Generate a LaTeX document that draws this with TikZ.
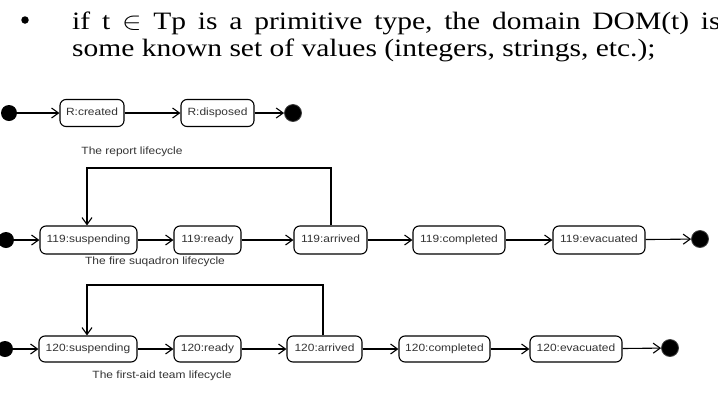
\documentclass[tikz,border=0pt]{standalone}
\usepackage{graphicx}
\usepackage{fontspec}
\setmainfont{Liberation Serif}
\newfontfamily\diagfont[FakeStretch=1.14]{Liberation Sans}
\usetikzlibrary{arrows.meta}
\definecolor{txtgray}{HTML}{333333}
\begin{document}
\begin{tikzpicture}[x=1pt,y=-1pt,
  state/.style={draw, rounded corners=6pt, line width=1.1pt, minimum height=27pt,
    inner sep=0pt, text height=7.6pt, text depth=2.2pt,
    font=\diagfont\fontsize{10.5}{12}\selectfont, text=txtgray},
  initst/.style={circle, fill=black, minimum size=16pt, inner sep=0pt},
  finst/.style={circle, fill=black, draw=black!75, line width=0.8pt, minimum size=17pt, inner sep=0pt},
  trans/.style={line width=1.1pt, -{Straight Barb[length=7pt,width=10pt,line width=1.1pt]}},
  caption/.style={font=\diagfont\fontsize{10.5}{12}\selectfont, text=txtgray, inner sep=0pt},
  bodytext/.style={font=\fontsize{25}{29}\selectfont, anchor=base west, inner sep=0pt}
]
\clip (0,0) rectangle (718,408);
\fill[white] (0,0) rectangle (718,408);

% text above
\node[circle, fill=black, minimum size=7.5pt, inner sep=0pt] (bul) at (25,20) {};
\node[bodytext] (l1) at (72,29) {\scalebox{1.18}[1]{\spaceskip=10pt plus 0pt if t $\in$ Tp is a primitive type, the domain DOM(t) is}};
\node[bodytext] (l2) at (72,56) {\scalebox{1.18}[1]{some known set of values (integers, strings, etc.);}};

% row 1
\node[initst] (i1) at (9,113) {};
\node[state, minimum width=64pt] (rc) at (92,113) {R:created};
\node[state, minimum width=73pt] (rd) at (217.5,113) {R:disposed};
\node[finst] (f1) at (293,113) {};
\draw[trans] (i1) -- (rc);
\draw[trans] (rc) -- (rd);
\draw[trans] (rd) -- (f1);
\node[caption] (cap1) at (132,152) {The report lifecycle};

% row 2
\node[initst] (i2) at (6,240) {};
\node[state, minimum width=97pt, minimum height=28pt] (s119) at (88.5,240) {119:suspending};
\node[state, minimum width=67pt, minimum height=28pt] (r119) at (207.5,240) {119:ready};
\node[state, minimum width=73pt, minimum height=28pt] (a119) at (330.5,240) {119:arrived};
\node[state, minimum width=92pt, minimum height=28pt] (c119) at (459,240) {119:completed};
\node[state, minimum width=92pt, minimum height=28pt] (e119) at (599,240) {119:evacuated};
\node[finst] (f2) at (700,239) {};
\draw[trans] (i2) -- (s119);
\draw[trans] (s119) -- (r119);
\draw[trans] (r119) -- (a119);
\draw[trans] (a119) -- (c119);
\draw[trans] (c119) -- (e119);
\draw[trans] (e119) -- (f2);
\coordinate (k2a) at (331,168);
\coordinate (k2b) at (87,168);
\draw[trans] (a119.north -| k2a) -- (k2a) -- (k2b) -- (k2b |- s119.north);
\node[caption] (cap2) at (155,262) {The fire suqadron lifecycle};

% row 3
\node[initst] (i3) at (5,349) {};
\node[state, minimum width=98pt, minimum height=26pt] (s120) at (88,349) {120:suspending};
\node[state, minimum width=67pt, minimum height=26pt] (r120) at (207.5,349) {120:ready};
\node[state, minimum width=75pt, minimum height=26pt] (a120) at (324.5,349) {120:arrived};
\node[state, minimum width=91pt, minimum height=26pt] (c120) at (444.5,349) {120:completed};
\node[state, minimum width=92pt, minimum height=26pt] (e120) at (576,349) {120:evacuated};
\node[finst] (f3) at (670,348) {};
\draw[trans] (i3) -- (s120);
\draw[trans] (s120) -- (r120);
\draw[trans] (r120) -- (a120);
\draw[trans] (a120) -- (c120);
\draw[trans] (c120) -- (e120);
\draw[trans] (e120) -- (f3);
\coordinate (k3a) at (323,285);
\coordinate (k3b) at (87,285);
\draw[trans] (a120.north -| k3a) -- (k3a) -- (k3b) -- (k3b |- s120.north);
\node[caption] (cap3) at (162,376) {The first-aid team lifecycle};
\end{tikzpicture}
\end{document}
